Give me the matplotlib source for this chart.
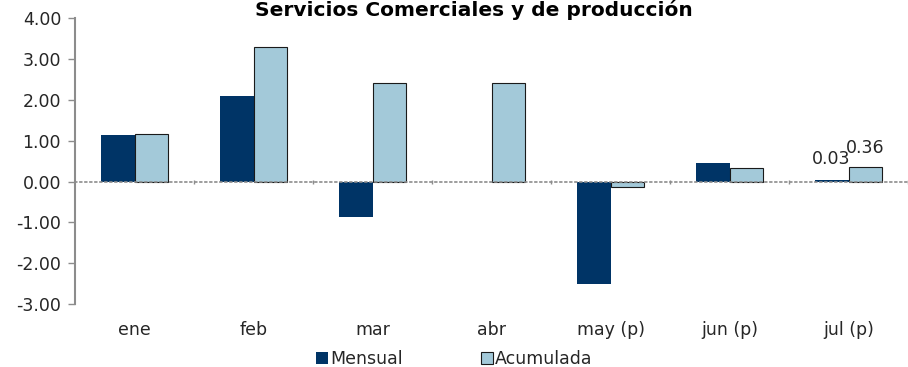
import matplotlib
matplotlib.use("Agg")
import matplotlib.pyplot as plt
import numpy as np

categories = ["ene", "feb", "mar", "abr", "may (p)", "jun (p)", "jul (p)"]
mensual = [1.15, 2.09, -0.86, 0.00, -2.50, 0.45, 0.03]
acumulada = [1.16, 3.28, 2.41, 2.41, -0.13, 0.32, 0.36]
yticks = [-3, -2, -1, 0, 1, 2, 3, 4]

c_mens = "#003466"
c_acum = "#a3c9d9"
grey = "#8c8c8c"
txt = "#262626"

plt.rcParams["font.family"] = ["DejaVu Sans"]

fig = plt.figure(figsize=(9.08, 3.67), dpi=100)
ax = fig.add_axes([0.0826, 0.171, 0.9174, 0.78])

x = np.arange(len(categories))
w = 0.285
ax.bar(x - w / 2, mensual, w, color=c_mens, edgecolor="none", label="Mensual", zorder=2)
ax.bar(x + w / 2, acumulada, w, color=c_acum, edgecolor="#1a1a1a", linewidth=0.8,
       label="Acumulada", zorder=2)

ax.set_xlim(-0.5, len(categories) - 0.5)
ax.set_ylim(-3, 4)
ax.set_yticks(yticks)
ax.set_yticklabels([f"{v:.2f}" for v in yticks], fontsize=12.5, color=txt)
ax.tick_params(axis="y", direction="out", length=5, width=1, color=grey, pad=5)

for s in ["top", "right"]:
    ax.spines[s].set_visible(False)
ax.spines["left"].set_color(grey)
ax.spines["left"].set_linewidth(1.5)

# horizontal axis sits on zero as a dotted line with small boundary ticks
ax.spines["bottom"].set_position(("data", 0))
ax.spines["bottom"].set_linestyle((0, (1, 2)))
ax.spines["bottom"].set_color(grey)
ax.spines["bottom"].set_linewidth(1.2)
ax.set_xticks(x)
ax.set_xticklabels([])
ax.tick_params(axis="x", which="major", length=0)
ax.set_xticks(np.arange(0.5, len(categories)), minor=True)
ax.tick_params(axis="x", which="minor", length=3, direction="inout", color=grey, width=1)

for xi, lab in zip(x, categories):
    ax.text(xi, -0.09, lab, transform=ax.get_xaxis_transform(), ha="center", va="center",
            fontsize=12.5, color=txt)

# value labels on the last month
last = len(categories) - 1
ax.annotate(f"{mensual[last]:.2f}", (x[last] - w / 2, mensual[last]), xytext=(0, 9),
            textcoords="offset points", ha="center", va="bottom", fontsize=12.5, color=txt)
ax.annotate(f"{acumulada[last]:.2f}", (x[last] + w / 2, acumulada[last]), xytext=(0, 7),
            textcoords="offset points", ha="center", va="bottom", fontsize=12.5, color=txt)

fig.text(0.522, 1.0, "Servicios Comerciales y de producción", ha="center", va="top",
         fontsize=14.5, fontweight="bold", color="black")

fig.legend(loc="lower center", bbox_to_anchor=(0.5, -0.045), ncol=2, frameon=False,
           fontsize=12.5, handlelength=0.7, handleheight=0.7, handletextpad=0.1,
           columnspacing=4.5, labelcolor=txt)

fig.savefig("out.png", dpi=100)
